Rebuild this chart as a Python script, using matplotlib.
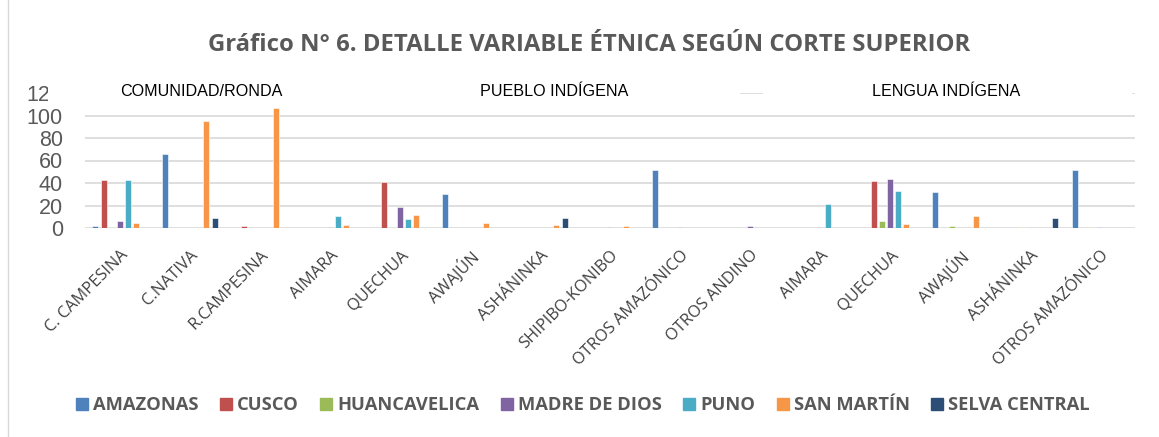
import numpy as np
import matplotlib
matplotlib.use("Agg")
import matplotlib.pyplot as plt
from matplotlib.lines import Line2D
from matplotlib.patches import Rectangle

categories = ["C. CAMPESINA", "C.NATIVA", "R.CAMPESINA",
              "AIMARA", "QUECHUA", "AWAJÚN", "ASHÁNINKA", "SHIPIBO-KONIBO",
              "OTROS AMAZÓNICO", "OTROS ANDINO",
              "AIMARA", "QUECHUA", "AWAJÚN", "ASHÁNINKA", "OTROS AMAZÓNICO"]
series_names = ["AMAZONAS", "CUSCO", "HUANCAVELICA", "MADRE DE DIOS",
                "PUNO", "SAN MARTÍN", "SELVA CENTRAL"]
amazonas      = [2, 66, 0, 0, 0, 30, 0, 0, 52, 0, 0, 0, 32, 0, 52]
cusco         = [43, 0, 2, 0, 41, 0, 0, 0, 0, 0, 0, 42, 0, 0, 0]
huancavelica  = [0.5, 0, 0, 0, 0.5, 0, 0, 0, 0, 0, 0, 6, 1.5, 0.5, 0.5]
madre_de_dios = [6, 0, 0, 0.5, 19, 0, 0, 0.5, 0.5, 2, 0.5, 44, 0, 0, 0.5]
puno          = [43, 0, 0, 11, 8, 0, 0, 0, 0, 0, 21, 33, 0, 0, 0]
san_martin    = [4.5, 95, 107, 2.5, 12, 4.5, 2.5, 1.5, 0, 0, 0, 3.5, 10.5, 0, 0]
selva_central = [0, 9, 0, 0, 0, 0, 9, 0, 0, 0, 0, 0, 0, 9, 0]
sections = ["COMUNIDAD/RONDA", "PUEBLO INDÍGENA", "LENGUA INDÍGENA"]
section_pos = [1.16, 6.2, 11.8]
yticks = [0, 20, 40, 60, 80, 100, 120]

colors = ["#4F81BD", "#C0504D", "#9BBB59", "#8064A2", "#4BACC6", "#F79646", "#2C4D75"]
data = [amazonas, cusco, huancavelica, madre_de_dios, puno, san_martin, selva_central]

W, H = 1159, 437
fig = plt.figure(figsize=(W / 100, H / 100), dpi=100)
ax = fig.add_axes([85 / W, 1 - 228 / H, 1050 / W, 135 / H])

x = np.arange(len(categories))
slot = 0.117
for i, (vals, c) in enumerate(zip(data, colors)):
    ax.bar(x + (i - 3) * slot, vals, width=0.085, color=c, edgecolor="white",
           linewidth=0.4, zorder=3)

ax.set_xlim(-0.5, len(categories) - 0.5)
ax.set_ylim(0, 120)
ax.set_yticks(yticks)
ax.set_yticklabels([str(t) for t in yticks], fontsize=15.5, color="#595959",
                   family="Liberation Sans")
ax.grid(axis="y", color="#D9D9D9", linewidth=1.2, zorder=0)
ax.tick_params(axis="y", length=0, pad=16)
ax.tick_params(axis="x", length=0, pad=14)
for s in ax.spines.values():
    s.set_visible(False)

ax.set_xticks(x)
ax.set_xticklabels(categories, rotation=45, ha="right", va="top",
                   rotation_mode="anchor", fontsize=11.8, color="#404040",
                   family="Open Sans")

# white boxes behind the section labels (they hide the top gridline)
for x0, x1 in [(48, 740), (763, 1132)]:
    fig.add_artist(Rectangle((x0 / W, 1 - 101 / H), (x1 - x0) / W, 16 / H,
                             transform=fig.transFigure, facecolor="white",
                             edgecolor="none", zorder=2))

for label, xc in zip(sections, section_pos):
    fig.text(ax.transData.transform((xc, 120))[0] / W, 1 - 92 / H, label,
             ha="center", va="center", fontsize=11.6, color="black",
             family="Liberation Sans", zorder=3)

fig.text(0.508, 1 - 45 / H, "Gráfico N° 6. DETALLE VARIABLE ÉTNICA SEGÚN CORTE SUPERIOR",
         ha="center", va="center", fontsize=17.2, fontweight="bold",
         color="#595959", family="Open Sans")

handles = [Line2D([], [], marker="s", linestyle="none", markersize=8.5,
                  markerfacecolor=c, markeredgecolor=c) for c in colors]
fig.legend(handles, series_names, loc="center", bbox_to_anchor=(0.503, 1 - 405 / H),
           ncol=7, frameon=False, handlelength=0.6, handletextpad=0.3,
           columnspacing=1.2,
           prop={"family": "Open Sans", "weight": "bold", "size": 13.2},
           labelcolor="#595959")

fig.add_artist(Line2D([8 / W, 8 / W], [0, 1], color="#D9D9D9", linewidth=1))

fig.savefig("out.png", dpi=100)
